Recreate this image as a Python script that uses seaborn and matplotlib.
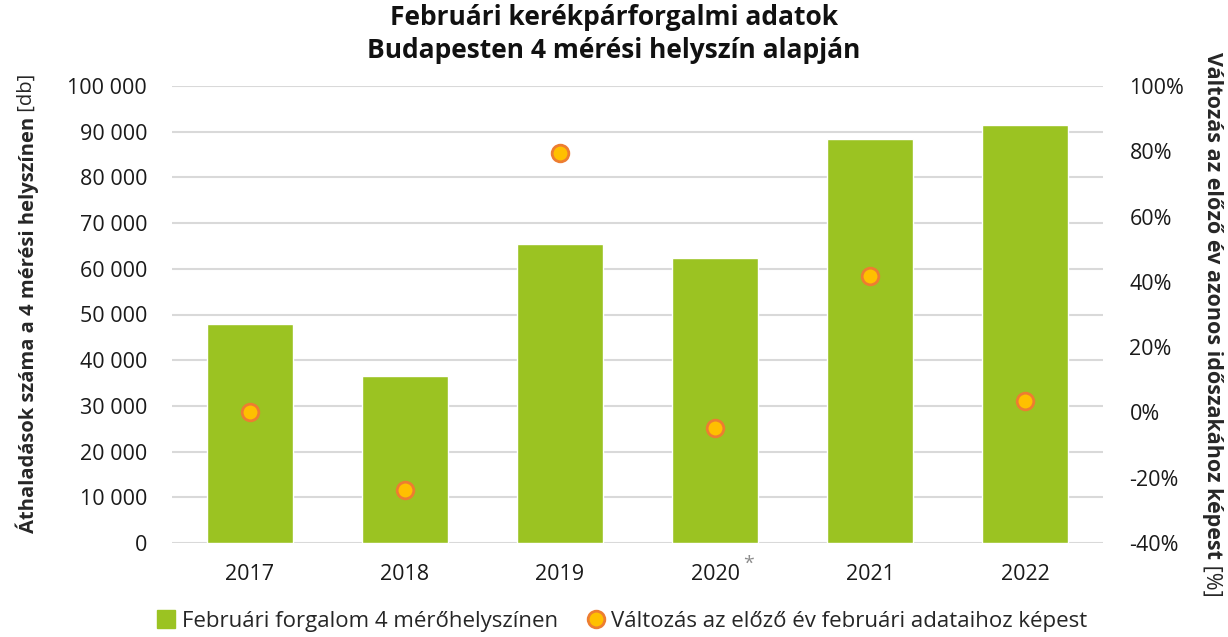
import numpy as np
import pandas as pd
import matplotlib
matplotlib.use('Agg')
import matplotlib.pyplot as plt
import seaborn as sns
from matplotlib.lines import Line2D
from matplotlib.ticker import FuncFormatter, MultipleLocator

# data
years = ['2017', '2018', '2019', '2020', '2021', '2022']
traffic = [47900, 36500, 65500, 62400, 88400, 91500]
change = [0.0, -0.238, 0.795, -0.047, 0.417, 0.035]

bar_label = 'Februári forgalom 4 mérőhelyszínen'
dot_label = 'Változás az előző év februári adataihoz képest'

green = '#9BC322'
dot_fill = '#FFC000'
dot_edge = '#ED7D31'
grid_col = '#D9D9D9'

sns.set_theme(style='white')
plt.rcParams['font.family'] = ['Open Sans', 'DejaVu Sans']

df = pd.DataFrame({'year': years, 'traffic': traffic, 'change': change})

fig, ax = plt.subplots(figsize=(12.28, 6.37), dpi=100)
fig.subplots_adjust(left=172/1228, right=1103/1228, top=1-86/637, bottom=1-543/637)

sns.barplot(data=df, x='year', y='traffic', color=green, saturation=1,
            width=0.555, ax=ax, zorder=2)
ax.set_ylim(0, 100000)
ax.yaxis.set_major_locator(MultipleLocator(10000))
ax.yaxis.set_major_formatter(FuncFormatter(lambda v, p: f'{v:,.0f}'.replace(',', ' ')))
ax.grid(axis='y', color=grid_col, lw=1.5, zorder=0)
ax.set_axisbelow(True)
ax.set_xlabel('')
ax.set_ylabel('')
ax.tick_params(axis='y', length=0, pad=18, labelsize=15.5, labelcolor='#1a1a1a')
ax.tick_params(axis='x', length=0, pad=15, labelsize=15.5, labelcolor='#1a1a1a')
for s in ax.spines.values():
    s.set_visible(False)

# secondary axis with yearly change
ax2 = ax.twinx()
sns.pointplot(data=df, x='year', y='change', ax=ax2, color=dot_fill,
              linestyle='none', markers='o', markersize=12,
              markeredgecolor=dot_edge, markeredgewidth=2, errorbar=None,
              zorder=3)
ax2.set_ylim(-0.4, 1.0)
ax2.yaxis.set_major_locator(MultipleLocator(0.2))
ax2.yaxis.set_major_formatter(FuncFormatter(lambda v, p: f'{v*100:.0f}%'))
ax2.set_xlabel('')
ax2.set_ylabel('')
ax2.tick_params(axis='y', length=0, pad=19, labelsize=15.5, labelcolor='#1a1a1a')
for s in ax2.spines.values():
    s.set_visible(False)

# asterisk next to 2020
ax.annotate('*', xy=(3, 0), xycoords=('data', 'axes fraction'),
            xytext=(20, -15), textcoords='offset points', ha='left', va='center',
            fontsize=14, color='#8c8c8c')

fig.suptitle('Februári kerékpárforgalmi adatok\nBudapesten 4 mérési helyszín alapján',
             x=0.5, y=0.993, fontsize=19, fontweight='bold', linespacing=1.25,
             color='#111111')

# axis titles: bold part + regular unit
lt = fig.text(27/1228, 0.49, 'Áthaladások száma a 4 mérési helyszínen',
              rotation=90, fontsize=14.5, fontweight='bold', ha='center', va='center')
ax.annotate(' [db]', xy=(0.5, 1), xycoords=lt, rotation=90, fontsize=14.5,
            ha='center', va='bottom')
rt = fig.text(1212/1228, 0.52, 'Változás az előző év azonos időszakához képest',
              rotation=270, fontsize=15.5, fontweight='bold', ha='center', va='center')
ax.annotate(' [%]', xy=(0.5, 0), xycoords=rt, rotation=270, fontsize=15.5,
            ha='center', va='top')

handles = [
    Line2D([], [], marker='s', color=green, linestyle='none', markersize=13),
    Line2D([], [], marker='o', markerfacecolor=dot_fill, markeredgecolor=dot_edge,
           markeredgewidth=2, linestyle='none', markersize=12),
]
fig.legend(handles, [bar_label, dot_label], loc='center', bbox_to_anchor=(0.507, 0.024),
           ncol=2, frameon=False, fontsize=16, handlelength=0.8, handletextpad=0.3,
           columnspacing=1.3)

fig.savefig('out.png', dpi=100)
